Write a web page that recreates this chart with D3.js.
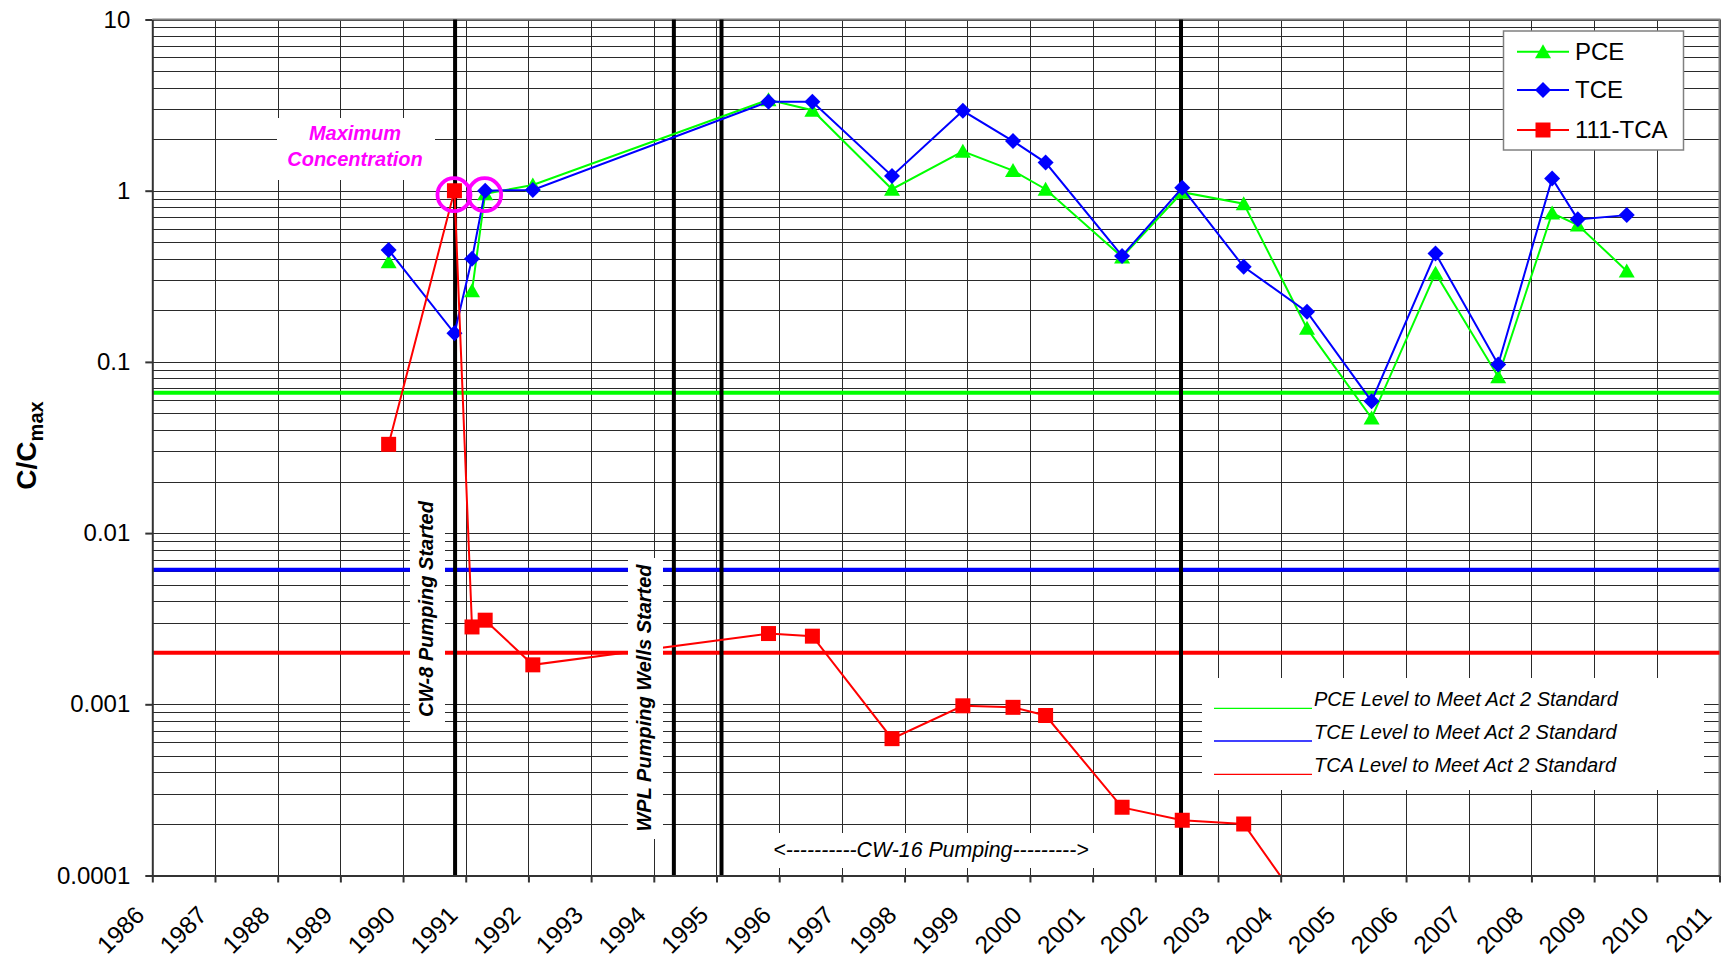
<!DOCTYPE html>
<html>
<head>
<meta charset="utf-8">
<script src="https://cdn.jsdelivr.net/npm/d3@7"></script>
<style>
  body { margin: 0; background: #fff; }
  svg { display: block; font-family: Arial, "Liberation Sans", sans-serif; }
</style>
</head>
<body>
<div id="chart"></div>
<script>
// sampling dates, as decimal years
var sampleYears = [1989.77, 1990.82, 1991.10, 1991.31, 1992.07, 1995.83, 1996.53, 1997.80, 1998.93, 1999.73, 2000.25,
                   2001.47, 2002.43, 2003.41, 2004.42, 2005.45, 2006.47, 2007.47, 2008.33, 2008.74, 2009.52];
// C/Cmax per compound (null = not sampled)
var pceValues = [0.385, null, 0.26, 0.96, 1.08, 3.4, 2.95, 1.02, 1.7, 1.31, 1.02,
                 0.41, 0.98, 0.84, 0.157, 0.047, 0.33, 0.082, 0.74, 0.63, 0.34];
var tceValues = [0.45, 0.147, 0.40, 1.0, 1.01, 3.31, 3.31, 1.22, 2.93, 1.95, 1.46,
                 0.416, 1.04, 0.359, 0.196, 0.059, 0.43, 0.0965, 1.18, 0.68, 0.72];
var tcaValues = [0.033, 1.0, 0.00283, 0.0031, 0.0017, 0.00259, 0.0025, 0.00063, 0.00098, 0.00096, 0.00086,
                 0.00025, 0.00021, 0.0002, 0.00006, null, null, null, null, null, null];

// Act 2 standard levels (as C/Cmax)
var pceStandard = 0.066;
var tceStandard = 0.0061;
var tcaStandard = 0.002;

// pumping events (decimal years)
var eventYears = [1990.83, 1994.32, 1995.08, 2002.41];

var yearTicks = d3.range(1986, 2012);
var decadeTicks = [0.0001, 0.001, 0.01, 0.1, 1, 10];
var decadeLabels = ["0.0001", "0.001", "0.01", "0.1", "1", "10"];

var width = 1726, height = 958;
var plotLeft = 152.3, plotRight = 1719.5, plotTop = 19.5, plotBottom = 875.5;

var svg = d3.select("#chart").append("svg")
    .attr("width", width)
    .attr("height", height);

var x = d3.scaleLinear().domain([1986, 2011]).range([plotLeft, plotRight]);
var y = d3.scaleLog().domain([0.0001, 10]).range([plotBottom, plotTop]);

//gridlines
var minorValues = [];
decadeTicks.forEach(function(d) {
  if (d < 10) d3.range(2, 10).forEach(function(m) { minorValues.push(m * d); });
});

var grid = svg.append("g");
grid.selectAll(".hgrid")
    .data(minorValues.concat(decadeTicks))
  .enter().append("line")
    .attr("x1", plotLeft).attr("x2", plotRight)
    .attr("y1", function(d) { return Math.round(y(d)) + 0.5; })
    .attr("y2", function(d) { return Math.round(y(d)) + 0.5; })
    .attr("stroke", "#2a2a2a").attr("stroke-width", 1);

grid.selectAll(".vgrid")
    .data(yearTicks.slice(1))
  .enter().append("line")
    .attr("x1", function(d) { return Math.round(x(d)) + 0.5; })
    .attr("x2", function(d) { return Math.round(x(d)) + 0.5; })
    .attr("y1", plotTop).attr("y2", plotBottom)
    .attr("stroke", "#2a2a2a").attr("stroke-width", 1);

//plot border (top/right)
svg.append("path")
    .attr("d", "M" + plotLeft + "," + plotTop + "H" + plotRight + "V" + plotBottom)
    .attr("fill", "none").attr("stroke", "#808080").attr("stroke-width", 2);

//standard levels
var standards = [
  {v: pceStandard, color: "#00ff00", name: "PCE Level to Meet Act 2 Standard"},
  {v: tceStandard, color: "#0000ff", name: "TCE Level to Meet Act 2 Standard"},
  {v: tcaStandard, color: "#ff0000", name: "TCA Level to Meet Act 2 Standard"}
];
svg.append("g").selectAll("line")
    .data(standards)
  .enter().append("line")
    .attr("x1", plotLeft).attr("x2", plotRight)
    .attr("y1", function(d) { return y(d.v); })
    .attr("y2", function(d) { return y(d.v); })
    .attr("stroke", function(d) { return d.color; })
    .attr("stroke-width", 4);

//event lines
svg.append("g").selectAll("line")
    .data(eventYears)
  .enter().append("line")
    .attr("x1", function(d) { return x(d); })
    .attr("x2", function(d) { return x(d); })
    .attr("y1", plotTop).attr("y2", plotBottom)
    .attr("stroke", "#000").attr("stroke-width", 4);

//series
svg.append("clipPath").attr("id", "plotclip")
  .append("rect").attr("x", plotLeft).attr("y", plotTop)
    .attr("width", plotRight - plotLeft).attr("height", plotBottom - plotTop);

var triangle = "M0,-7.5L8,6.5L-8,6.5Z";
var diamond = "M0,-8L8,0L0,8L-8,0Z";
var square = "M-7.5,-7.5H7.5V7.5H-7.5Z";

var series = [
  {name: "PCE", color: "#00ff00", values: pceValues, shape: triangle},
  {name: "TCE", color: "#0000ff", values: tceValues, shape: diamond},
  {name: "111-TCA", color: "#ff0000", values: tcaValues, shape: square}
];

var line = d3.line()
    .defined(function(d) { return d.v != null; })
    .x(function(d) { return x(d.t); })
    .y(function(d) { return y(d.v); });

var plot = svg.append("g").attr("clip-path", "url(#plotclip)");

series.forEach(function(s) {
  var pts = sampleYears.map(function(t, i) { return {t: t, v: s.values[i]}; });
  plot.append("path")
      .datum(pts)
      .attr("d", line)
      .attr("fill", "none")
      .attr("stroke", s.color)
      .attr("stroke-width", 2);
  plot.selectAll(null)
      .data(pts.filter(function(d) { return d.v != null; }))
    .enter().append("path")
      .attr("d", s.shape)
      .attr("transform", function(d) { return "translate(" + x(d.t) + "," + y(d.v) + ")"; })
      .attr("fill", s.color);
});

//axes
var yAxis = svg.append("g")
    .attr("transform", "translate(" + plotLeft + ",0)")
    .call(d3.axisLeft(y).tickValues(decadeTicks).tickSize(7).tickSizeOuter(0).tickPadding(15)
      .tickFormat(function(d, i) { return decadeLabels[i]; }));
yAxis.selectAll("text").attr("font-size", 24).attr("fill", "#000").attr("font-family", null);
yAxis.selectAll("line, path").attr("stroke", "#333").attr("stroke-width", 2);

var xAxis = svg.append("g")
    .attr("transform", "translate(0," + plotBottom + ")")
    .call(d3.axisBottom(x).tickValues(yearTicks).tickSize(7).tickSizeOuter(0).tickFormat(d3.format("d")));
xAxis.selectAll("line, path").attr("stroke", "#333").attr("stroke-width", 2);
xAxis.selectAll("text")
    .attr("font-size", 24.5).attr("fill", "#000").attr("font-family", null)
    .attr("text-anchor", "end")
    .attr("y", 0).attr("dy", 0)
    .attr("transform", "translate(-7,41) rotate(-45)");

//y title
var yTitle = svg.append("text")
    .attr("transform", "translate(36," + ((plotTop + plotBottom) / 2 - 2) + ") rotate(-90)")
    .attr("text-anchor", "middle")
    .attr("font-weight", "bold");
yTitle.append("tspan").attr("font-size", 28).text("C/C");
yTitle.append("tspan").attr("font-size", 20).attr("dy", 7).text("max");

//annotation boxes
function box(bx, by, bw, bh) {
  svg.append("rect").attr("x", bx).attr("y", by).attr("width", bw).attr("height", bh).attr("fill", "#fff");
}

box(277, 118, 158, 62);
svg.append("text").attr("x", 355).attr("y", 140)
    .attr("text-anchor", "middle").attr("font-size", 20)
    .attr("font-weight", "bold").attr("font-style", "italic").attr("fill", "#ff00ff")
    .text("Maximum");
svg.append("text").attr("x", 355).attr("y", 166)
    .attr("text-anchor", "middle").attr("font-size", 20)
    .attr("font-weight", "bold").attr("font-style", "italic").attr("fill", "#ff00ff")
    .text("Concentration");

svg.append("g").selectAll("circle")
    .data([sampleYears[1], sampleYears[3]])
  .enter().append("circle")
    .attr("cx", function(d) { return x(d) - 0.5; })
    .attr("cy", y(1) + 4)
    .attr("r", 16.5)
    .attr("fill", "none")
    .attr("stroke", "#ff00ff")
    .attr("stroke-width", 3.8);

box(410, 497, 35, 228);
svg.append("text")
    .attr("transform", "translate(432.5,609) rotate(-90)")
    .attr("text-anchor", "middle").attr("font-size", 20)
    .attr("font-weight", "bold").attr("font-style", "italic")
    .text("CW-8 Pumping Started");

box(628, 558, 35, 281);
svg.append("text")
    .attr("transform", "translate(650.5,698) rotate(-90)")
    .attr("text-anchor", "middle").attr("font-size", 20)
    .attr("font-weight", "bold").attr("font-style", "italic")
    .text("WPL Pumping Wells Started");

box(770, 833, 325, 35);
svg.append("text")
    .attr("x", 931).attr("y", 857)
    .attr("text-anchor", "middle").attr("font-size", 21.3)
    .attr("font-style", "italic")
    .text("<----------CW-16 Pumping--------->");

//standards legend
box(1202, 678, 502, 112);
var stdLegend = svg.append("g").selectAll("g")
    .data(standards)
  .enter().append("g")
    .attr("transform", function(d, i) { return "translate(1214," + [708.3, 741, 774.3][i] + ")"; });
stdLegend.append("line")
    .attr("x1", 0).attr("x2", 98)
    .attr("stroke", function(d) { return d.color; })
    .attr("stroke-width", 1.3);
stdLegend.append("text")
    .attr("x", 100).attr("y", -2.5)
    .attr("font-size", 20).attr("font-style", "italic")
    .text(function(d) { return d.name; });

//series legend
svg.append("rect")
    .attr("x", 1503.5).attr("y", 31).attr("width", 180).attr("height", 119)
    .attr("fill", "#fff").attr("stroke", "#808080").attr("stroke-width", 1.5);
var legend = svg.append("g").selectAll("g")
    .data(series)
  .enter().append("g")
    .attr("transform", function(d, i) { return "translate(1517," + [51.7, 90, 130][i] + ")"; });
legend.append("line")
    .attr("x1", 0).attr("x2", 52)
    .attr("stroke", function(d) { return d.color; })
    .attr("stroke-width", 2);
legend.append("path")
    .attr("d", function(d) { return d.shape; })
    .attr("transform", "translate(26,0)")
    .attr("fill", function(d) { return d.color; });
legend.append("text")
    .attr("x", 58).attr("dy", "0.35em")
    .attr("font-size", 24)
    .text(function(d) { return d.name; });
</script>
</body>
</html>
